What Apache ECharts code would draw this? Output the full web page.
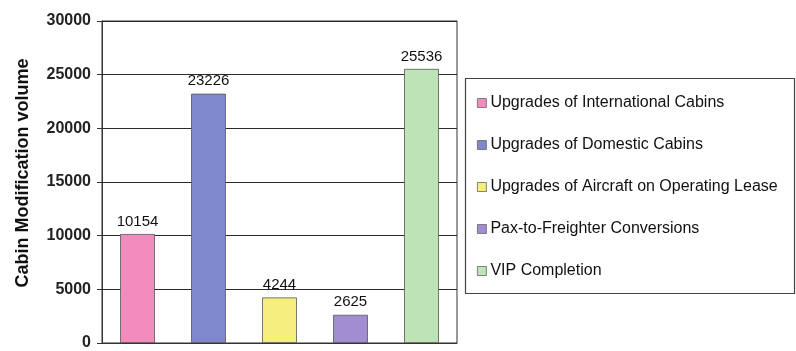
<!DOCTYPE html>
<html>
<head>
<meta charset="utf-8">
<script src="https://cdn.jsdelivr.net/npm/echarts@6/dist/echarts.min.js"></script>
<style>
  html, body { margin: 0; padding: 0; background: #fff; }
  #chart { width: 796px; height: 351px; }
</style>
</head>
<body>
<div id="chart"></div>
<script>
// Cabin modification volume by programme type
const seriesNames = [
  'Upgrades of International Cabins',
  'Upgrades of Domestic Cabins',
  'Upgrades of Aircraft on Operating Lease',
  'Pax-to-Freighter Conversions',
  'VIP Completion'
];
const volumes = [10154, 23226, 4244, 2625, 25536];
const barColors = ['#f28cbc', '#7f88cc', '#f5f07e', '#a28dd2', '#bde3b6'];
const yTicks = [0, 5000, 10000, 15000, 20000, 25000, 30000];

const chart = echarts.init(document.getElementById('chart'));

// One series per programme so each gets its own legend entry;
// all share a stack so every bar sits centred in its own slot.
const series = seriesNames.map((name, i) => ({
  name: name,
  type: 'bar',
  stack: 'all',
  barWidth: '49%',
  data: volumes.map((v, j) => (j === i ? v : '-')),
  itemStyle: { color: barColors[i], borderColor: '#555', borderWidth: 0.8 },
  label: {
    show: true,
    position: 'top',
    distance: 5,
    color: '#111',
    fontFamily: 'Liberation Sans, Arial, sans-serif',
    fontSize: 15
  }
}));

chart.setOption({
  animation: false,
  backgroundColor: '#fff',
  grid: {
    left: 102, top: 21, right: 339, bottom: 6,
    show: true, borderColor: '#333', borderWidth: 1
  },
  legend: {
    orient: 'vertical',
    left: 472, top: 90,
    itemGap: 26,
    itemWidth: 9, itemHeight: 9,
    icon: 'rect',
    itemStyle: { borderColor: '#666', borderWidth: 0.8 },
    textStyle: {
      fontFamily: 'Liberation Sans, Arial, sans-serif',
      fontSize: 16, color: '#111', padding: [0, 0, 0, -1]
    },
    data: seriesNames
  },
  graphic: [{
    type: 'rect',
    left: 463, top: 76,
    shape: { width: 329, height: 215 },
    style: { fill: 'none', stroke: '#444', lineWidth: 1.2 },
    silent: true
  }],
  xAxis: {
    type: 'category',
    data: seriesNames,
    axisLine: { show: true, lineStyle: { color: '#333' } },
    axisTick: { show: false },
    axisLabel: { show: false }
  },
  yAxis: {
    type: 'value',
    min: yTicks[0],
    max: yTicks[yTicks.length - 1],
    interval: yTicks[1] - yTicks[0],
    name: 'Cabin Modification volume',
    nameLocation: 'middle',
    nameGap: 70,
    nameTextStyle: {
      fontFamily: 'Liberation Sans, Arial, sans-serif',
      fontSize: 18, fontWeight: 'bold', color: '#111',
      padding: [0, 0, 0, 18]
    },
    axisLine: { show: true, lineStyle: { color: '#333' } },
    axisTick: { show: true, inside: false, length: 5, lineStyle: { color: '#333' } },
    axisLabel: {
      margin: 11,
      formatter: v => String(v),
      fontFamily: 'Liberation Sans, Arial, sans-serif',
      fontSize: 16, fontWeight: 'bold', color: '#222'
    },
    splitLine: { show: true, lineStyle: { color: '#2a2a2a', width: 1.2 } }
  },
  series: series
});
</script>
</body>
</html>
